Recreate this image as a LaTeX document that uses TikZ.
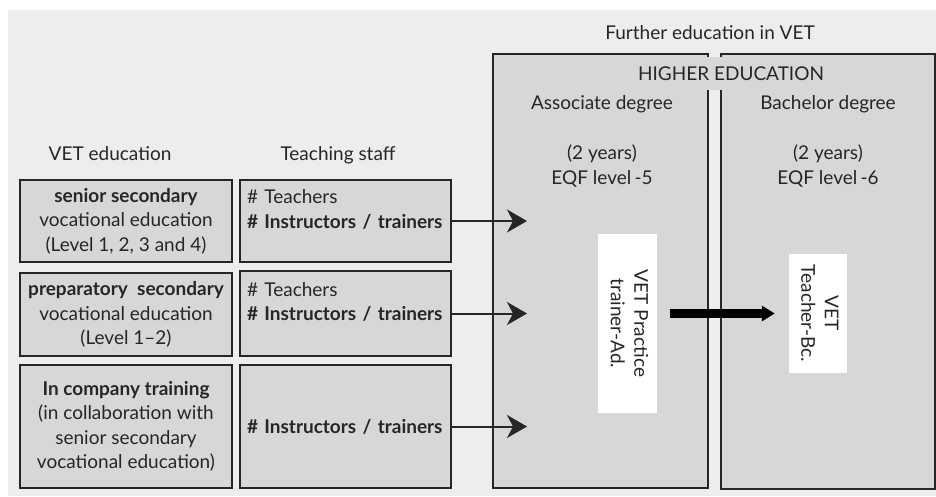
\documentclass[tikz,border=0pt]{standalone}
\usepackage{fontspec}
\setmainfont{Lato}
\usepackage{tikz}
\usetikzlibrary{positioning}
\usetikzlibrary{arrows.meta}
\definecolor{bggray}{HTML}{EDEDED}
\definecolor{boxgray}{HTML}{D6D7D9}
\definecolor{ink}{HTML}{262626}

\begin{document}
\begin{tikzpicture}[x=1pt,y=-1pt]
		\tikzset{
			textnode/.style={text=ink,font=\fontsize{19}{24.5}\selectfont,align=center,inner sep=0pt},
		}
		\tikzset{
			box/.style={textnode,draw=ink,line width=1.2pt,fill=boxgray,minimum width=212pt},
			staffbox/.style={box,align=left,text width=197pt,inner xsep=7pt,minimum width=211pt},
			whitebox/.style={textnode,fill=white},
		}
		\tikzset{
			edge/.style={color=ink,line width=2pt,-{Stealth[length=20pt,width=23pt,inset=6pt]}},
			bigedge/.style={color=black,line width=8.5pt,-{Triangle[length=13pt,width=15pt]}},
		}
		
		\useasboundingbox (0,0) rectangle (936,496);
		\fill[bggray] (8,10) rectangle (936,496);
		
		% higher education
		\node[box,minimum width=215pt,minimum height=434pt] (AD) at (600.5,271) {};
		\node[box,minimum width=214pt,minimum height=435pt] (BD) at (828,271.5) {};
		\node[textnode,fill=boxgray,minimum height=33pt,inner xsep=4pt] (HE) at (731,73.5) {HIGHER EDUCATION};
		\node[textnode,anchor=base] (further) at (710,39) {Further education in VET};
		\node[textnode,anchor=base] (assoc) at (602,109) {Associate degree};
		\node[textnode,anchor=base] (bach) at (828,109) {Bachelor degree};
		\node[textnode] (eqf5) at (602,166) {(2 years)\\EQF level\thinspace-5};
		\node[textnode] (eqf6) at (828,166) {(2 years)\\EQF level\thinspace-6};
		
		\node[whitebox,minimum width=59pt,minimum height=179pt] (W1) at (627.5,323.5)
			{\rotatebox{-90}{\begin{tabular}{@{}c@{}}VET Practice\\[-1pt]trainer-Ad.\end{tabular}}};
		\node[whitebox,minimum width=58pt,minimum height=119pt] (W2) at (818,313.5)
			{\rotatebox{-90}{\begin{tabular}{@{}c@{}}VET\\[-1pt]Teacher-Bc.\end{tabular}}};
		
		% VET education
		\node[textnode,anchor=base] (vethead) at (110,160) {VET education};
		\node[textnode,anchor=base] (staffhead) at (338,160) {Teaching staff};
		
		\node[box,minimum height=82pt] (V1) at (126,221)
			{\textbf{senior secondary}\\vocational education\\(Level 1, 2, 3 and 4)};
		\node[box,minimum height=83pt] (V2) at (126,314.5)
			{\textbf{preparatory\ \ secondary}\\vocational education\\(Level 1--2)};
		\node[box,minimum height=123pt] (V3) at (126,426.5)
			{\textbf{In company training}\\(in collaboration with\\senior secondary\\vocational education)};
		
		\node[staffbox,minimum height=82pt] (T1) at (345.5,221)
			{\# Teachers\\\textbf{\# Instructors / trainers}\\\mbox{}};
		\node[staffbox,minimum height=85pt] (T2) at (345.5,313.5)
			{\# Teachers\\\textbf{\# Instructors / trainers}\\\mbox{}};
		\node[staffbox,minimum height=123pt] (T3) at (345.5,426.5)
			{\textbf{\# Instructors / trainers}};
		
		\coordinate (in) at (527,0);
		
		\draw[edge] (T1.east) to (T1.east -| in);
		\draw[edge] (T2.east) to (T2.east -| in);
		\draw[edge] (T3.east) to (T3.east -| in);
		\draw[bigedge,shorten <=13pt,shorten >=14pt] (W1.east |- W2.west) to (W2.west);
	\end{tikzpicture}
\end{document}
